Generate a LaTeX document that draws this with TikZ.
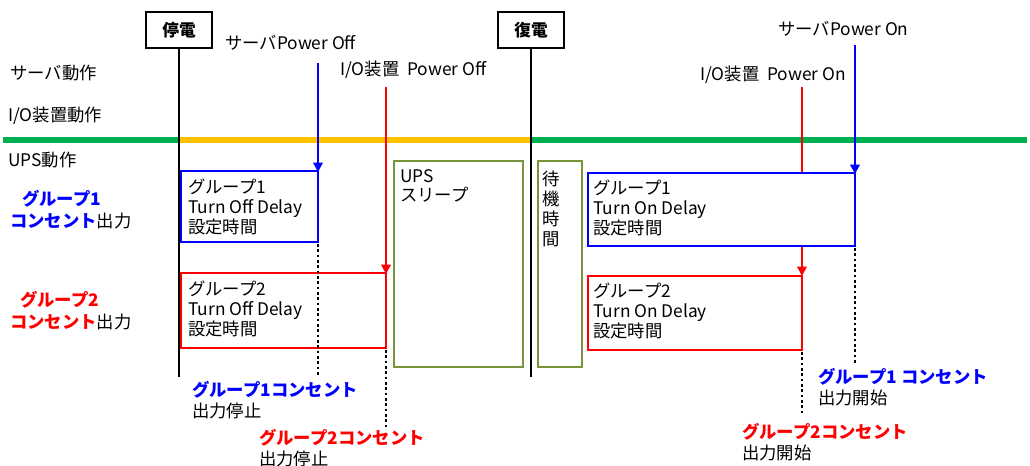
\documentclass[tikz,border=0pt]{standalone}
\usepackage{fontspec}
\setmainfont{Noto Sans CJK JP}
\usetikzlibrary{arrows.meta}
\definecolor{cblue}{HTML}{0000FF}
\definecolor{cred}{HTML}{FF0000}
\definecolor{cgreen}{HTML}{00B050}
\definecolor{cyellow}{HTML}{FFC000}
\definecolor{colive}{HTML}{77933C}
\tikzset{
  txt/.style={inner sep=0pt, anchor=west, font=\fontsize{13}{15}\selectfont},
  btxt/.style={inner sep=0pt, anchor=west, font=\bfseries\fontsize{13}{15}\selectfont},
  boxtxt/.style={inner sep=0pt, anchor=north west, align=left, font=\fontsize{13}{14.8}\selectfont},
  evbox/.style={draw=black, line width=2.2pt, fill=white, inner sep=3pt, font=\bfseries\fontsize{12.5}{14}\selectfont, minimum width=66*0.75pt, minimum height=36*0.75pt},
  timeline/.style={line width=2.2pt, black},
  bar/.style={line width=4.5pt},
  span/.style={line width=2.2pt, fill=white},
  sig/.style={line width=2.2pt, -{Triangle[length=7pt,width=7pt]}},
  dots/.style={line width=2pt, dash pattern=on 2pt off 2pt},
}
\begin{document}
\begin{tikzpicture}[x=0.75pt,y=-0.75pt]
\useasboundingbox (0,0) rectangle (1030,466);
% horizontal bars
\coordinate (gL) at (3,140);
\coordinate (gR) at (1027,140);
\coordinate (yL) at (179,140);
\coordinate (yR) at (531,140);
\draw[bar, cgreen] (gL) -- (yL);
\draw[bar, cyellow] (yL) -- (yR);
\draw[bar, cgreen] (yR) -- (gR);
% events
\node[evbox] (teiden) at (179,30) {停電};
\node[evbox] (fukuden) at (531,30) {復電};
\coordinate (tEnd) at (179,377);
\coordinate (fEnd) at (531,377);
\draw[timeline] (teiden.south) -- (tEnd);
\draw[timeline] (fukuden.south) -- (fEnd);
% row labels
\node[txt] (lsv) at (10,73) {サーバ動作};
\node[txt] (lio) at (8,116) {I/O装置動作};
\node[txt] (lups) at (8,160) {UPS動作};
\node[btxt, text=cblue] (lg1a) at (22,199) {グループ1};
\node[txt] (lg1b) at (10,221) {\textcolor{cblue}{\bfseries コンセント}出力};
\node[btxt, text=cred] (lg2a) at (20,300) {グループ2};
\node[txt] (lg2b) at (10,322) {\textcolor{cred}{\bfseries コンセント}出力};
% top labels
\node[txt] (svoff) at (225,43) {サーバPower Off};
\node[txt] (iooff) at (340,70) {I/O装置\ \ Power Off};
\node[txt] (svon) at (778,29) {サーバPower On};
\node[txt] (ioon) at (700,75) {I/O装置\ \ Power On};
% signal lines (drawn before boxes)
\coordinate (s1) at (318,63);
\coordinate (s2) at (386,87);
\coordinate (s3) at (855,45);
\coordinate (s4) at (802,87);
\draw[sig, cred] (s4) -- (802,276);
% spans
\draw[span, draw=cblue] (181,171) rectangle (318,242);
\node[boxtxt] (b1off) at (188,179) {グループ1\\Turn Off Delay\\設定時間};
\draw[span, draw=cred] (181,273) rectangle (386,348);
\node[boxtxt] (r2off) at (188,281) {グループ2\\Turn Off Delay\\設定時間};
\draw[span, draw=colive] (394,161) rectangle (523,367);
\node[boxtxt] (sleep) at (400,169) {UPS\\スリープ};
\draw[span, draw=colive] (538,161) rectangle (582,367);
\node[boxtxt, align=center, anchor=north, font=\fontsize{13}{15}\selectfont] (wait) at (551,171) {待\\機\\時\\間};
\draw[span, draw=cblue] (588,173) rectangle (855,246);
\node[boxtxt] (b1on) at (593,180) {グループ1\\Turn On Delay\\設定時間};
\draw[span, draw=cred] (588,276) rectangle (802,350);
\node[boxtxt] (r2on) at (593,283) {グループ2\\Turn On Delay\\設定時間};
% signal arrows
\draw[sig, cblue] (s1) -- (318,172);
\draw[sig, cred] (s2) -- (386,274);
\draw[sig, cblue] (s3) -- (855,174);
% dotted
\draw[dots] (318,244) -- (318,377);
\draw[dots] (386,350) -- (386,430);
\draw[dots] (855,248) -- (855,363);
\draw[dots] (802,352) -- (802,413);
% bottom labels
\node[btxt, text=cblue] (o1a) at (192,390) {グループ1コンセント};
\node[txt] (o1b) at (192,411) {出力停止};
\node[btxt, text=cred] (o2a) at (259,438) {グループ2コンセント};
\node[txt] (o2b) at (259,459) {出力停止};
\node[btxt, text=cblue] (n1a) at (818,377) {グループ1 コンセント};
\node[txt] (n1b) at (818,398) {出力開始};
\node[btxt, text=cred] (n2a) at (742,432) {グループ2コンセント};
\node[txt] (n2b) at (742,453) {出力開始};
\end{tikzpicture}
\end{document}
